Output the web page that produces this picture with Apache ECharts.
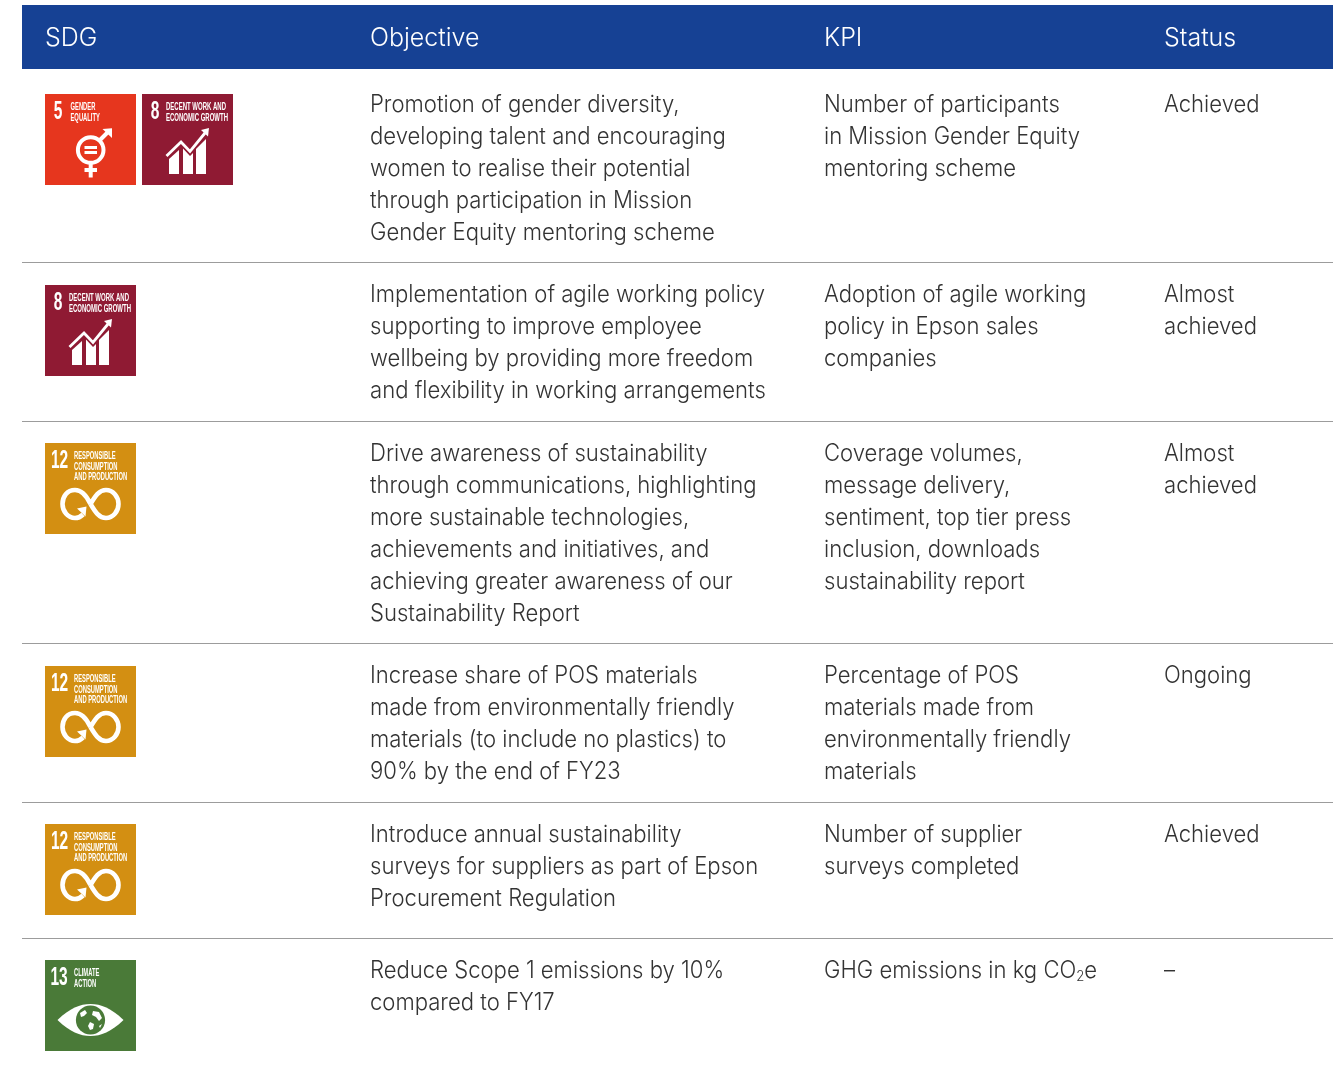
<!DOCTYPE html>
<html>
<head>
<meta charset="utf-8">
<title>SDG objectives</title>
<script src="https://cdn.jsdelivr.net/npm/echarts@6/dist/echarts.min.js"></script>
<style>
    html, body { margin: 0; padding: 0; background: #fff; }
    #main { width: 1340px; height: 1066px; }
</style>
</head>
<body>
<div id="main"></div>
<script>
var headers = ['SDG', 'Objective', 'KPI', 'Status'];

var sdgGoals = [[5, 8], [8], [12], [12], [12], [13]];

var objectives = [
    ['Promotion of gender diversity,', 'developing talent and encouraging', 'women to realise their potential', 'through participation in Mission', 'Gender Equity mentoring scheme'],
    ['Implementation of agile working policy', 'supporting to improve employee', 'wellbeing by providing more freedom', 'and flexibility in working arrangements'],
    ['Drive awareness of sustainability', 'through communications, highlighting', 'more sustainable technologies,', 'achievements and initiatives, and', 'achieving greater awareness of our', 'Sustainability Report'],
    ['Increase share of POS materials', 'made from environmentally friendly', 'materials (to include no plastics) to', '90% by the end of FY23'],
    ['Introduce annual sustainability', 'surveys for suppliers as part of Epson', 'Procurement Regulation'],
    ['Reduce Scope 1 emissions by 10%', 'compared to FY17']
];

var kpis = [
    ['Number of participants', 'in Mission Gender Equity', 'mentoring scheme'],
    ['Adoption of agile working', 'policy in Epson sales', 'companies'],
    ['Coverage volumes,', 'message delivery,', 'sentiment, top tier press', 'inclusion, downloads', 'sustainability report'],
    ['Percentage of POS', 'materials made from', 'environmentally friendly', 'materials'],
    ['Number of supplier', 'surveys completed'],
    ['GHG emissions in kg CO₂e']
];

var statuses = [
    ['Achieved'],
    ['Almost', 'achieved'],
    ['Almost', 'achieved'],
    ['Ongoing'],
    ['Achieved'],
    ['–']
];

var goalTitles = {
    5: ['GENDER', 'EQUALITY'],
    8: ['DECENT WORK AND', 'ECONOMIC GROWTH'],
    12: ['RESPONSIBLE', 'CONSUMPTION', 'AND PRODUCTION'],
    13: ['CLIMATE', 'ACTION']
};

// layout
var FONT = 'Inter';
var COL_X = [45, 370, 824, 1164];
var TABLE_L = 22, TABLE_R = 1333;
var HEAD_TOP = 5, HEAD_BOTTOM = 69;
var BODY_TOP = 71.5;
var LINE_H = 32;
var ICON = 91, ICON_GAP = 6;
var TEXT_SIZE = 23.5;
var TEXT_COLOR = '#333';

var goalColor = { 5: '#e6361e', 8: '#8f1a33', 12: '#d38f12', 13: '#4a7a38' };
var goalLayout = {
    5: { numX: 13, titleX: 25.5, sx: 0.58 },
    8: { numX: 13, titleX: 24, sx: 0.6 },
    12: { numX: 14.5, titleX: 29, sx: 0.58 },
    13: { numX: 14, titleX: 29, sx: 0.58 }
};

// row tops come from how many lines each row needs
var rowTops = [];
(function () {
    var y = BODY_TOP;
    for (var i = 0; i < objectives.length; i++) {
        rowTops.push(y);
        var n = Math.max(objectives[i].length, kpis[i].length, statuses[i].length);
        y += Math.max(n * LINE_H + 30.5, ICON + 45);
    }
})();

function white(type, shape, extra) {
    return { type: type, shape: shape, style: Object.assign({ fill: '#fff' }, extra || {}) };
}
function whiteLine(points, w) {
    return { type: 'polyline', shape: { points: points }, style: { fill: null, stroke: '#fff', lineWidth: w } };
}

// pictogram of each goal, drawn on a 91 x 91 tile
function pictogram(goal) {
    var c = goalColor[goal];
    if (goal === 5) {
        return [
            { type: 'circle', shape: { cx: 45.7, cy: 56, r: 12.8 }, style: { fill: null, stroke: '#fff', lineWidth: 4 } },
            white('rect', { x: 39.5, y: 52, width: 12.5, height: 3 }),
            white('rect', { x: 39.5, y: 57, width: 12.5, height: 3 }),
            white('rect', { x: 43.7, y: 70, width: 4, height: 13.5 }),
            white('rect', { x: 39.5, y: 74, width: 12.5, height: 4 }),
            whiteLine([[54, 47], [64, 37]], 4),
            white('polygon', { points: [[57.5, 35], [67, 34.2], [67, 44]] })
        ];
    }
    if (goal === 8) {
        return [
            white('polygon', { points: [[27, 65], [37, 56], [37, 80], [27, 80]] }),
            white('polygon', { points: [[41, 54.5], [48, 62], [51, 59], [51, 80], [41, 80]] }),
            white('polygon', { points: [[54, 55], [64, 45], [64, 80], [54, 80]] }),
            whiteLine([[24.5, 62], [39, 48], [48, 57.5], [63, 39]], 2.8),
            white('polygon', { points: [[59, 36], [67, 34], [66, 42.5]] })
        ];
    }
    if (goal === 12) {
        return [
            { type: 'path', shape: {
                pathData: 'M45.5 63.5C41 54 36 49.5 30 49.5C22 49.5 17.5 56 17.5 63.5C17.5 71 23 77.5 30 77.5C34 77.5 36 76 38 74M45.5 63.5C50 56 54 49.5 61 49.5C68 49.5 73.5 56 73.5 63.5C73.5 71 68 77.5 61 77.5C54 77.5 50 71 45.5 63.5',
                x: 17.5, y: 47, width: 56, height: 28, layout: 'cover'
            }, style: { fill: null, stroke: '#fff', lineWidth: 4.6 } },
            white('polygon', { points: [[32, 65.5], [41.5, 63.5], [40.5, 73.5]] })
        ];
    }
    return [
        { type: 'path', shape: {
            pathData: 'M12.5 60C25 48 35 44 45.5 44C56 44 66 48 78.5 60C66 72 56 76 45.5 76C35 76 25 72 12.5 60Z',
            x: 12.5, y: 44, width: 66, height: 32, layout: 'cover'
        }, style: { fill: '#fff' } },
        { type: 'circle', shape: { cx: 45.5, cy: 60, r: 14.6 }, style: { fill: c } },
        white('polygon', { points: [[35, 53], [40, 50], [42, 53], [39, 56], [36, 57]] }),
        white('polygon', { points: [[48, 51], [54, 52], [57, 58], [54, 61], [51, 57], [47, 55]] }),
        white('polygon', { points: [[45, 62], [49, 64], [48, 69], [45, 70], [43, 66]] }),
        white('polygon', { points: [[54, 66], [57, 64], [55, 68]] })
    ];
}

function tile(goal, x, y) {
    var lay = goalLayout[goal];
    var kids = [{ type: 'rect', shape: { x: 0, y: 0, width: ICON, height: ICON }, style: { fill: goalColor[goal] } }];
    kids.push({
        type: 'text', x: lay.numX, y: 18.5, scaleX: 0.62,
        style: { text: String(goal), fill: '#fff', font: 'bold 25px "Liberation Sans"', align: 'center', verticalAlign: 'middle' }
    });
    goalTitles[goal].forEach(function (t, i) {
        kids.push({
            type: 'text', x: lay.titleX, y: 13 + i * 10.8, scaleX: lay.sx,
            style: { text: t, fill: '#fff', font: 'bold 10px "Liberation Sans"', align: 'left', verticalAlign: 'middle' }
        });
    });
    return { type: 'group', x: x, y: y, children: kids.concat(pictogram(goal)) };
}

function cellText(lines, x, y) {
    var text = lines.join('\n');
    var style = { fill: TEXT_COLOR, fontFamily: FONT, fontWeight: 300, fontSize: TEXT_SIZE, lineHeight: LINE_H, align: 'left', verticalAlign: 'top' };
    // the subscript in CO2e sits lower than the glyph of the font does
    if (text.indexOf('₂') >= 0) {
        var parts = text.split('₂');
        text = '{t|' + parts[0] + '}{s|2}{t|' + parts[1] + '}';
        style.rich = {
            t: { fill: TEXT_COLOR, fontFamily: FONT, fontWeight: 300, fontSize: TEXT_SIZE, lineHeight: LINE_H },
            s: { fill: TEXT_COLOR, fontFamily: FONT, fontWeight: 300, fontSize: 14, lineHeight: LINE_H, padding: [12, 0, 0, 0] }
        };
    }
    style.text = text;
    return { type: 'text', x: x, y: y, scaleX: 0.94, style: style };
}

function renderHead(params, api) {
    var lt = api.coord([TABLE_L, HEAD_TOP]);
    var rb = api.coord([TABLE_R, HEAD_BOTTOM]);
    var kids = [{ type: 'rect', shape: { x: lt[0], y: lt[1], width: rb[0] - lt[0], height: rb[1] - lt[1] }, style: { fill: '#164194' } }];
    headers.forEach(function (h, i) {
        kids.push({
            type: 'text', x: api.coord([COL_X[i], 0])[0], y: api.coord([0, 38])[1], scaleX: 0.98,
            style: { text: h, fill: '#fff', fontFamily: FONT, fontWeight: 300, fontSize: 25.5, align: 'left', verticalAlign: 'middle' }
        });
    });
    return { type: 'group', children: kids };
}

function renderRow(params, api) {
    var i = api.value(0);
    var top = rowTops[i];
    var kids = [];
    if (i > 0) {
        var a = api.coord([TABLE_L, Math.round(top)]);
        var b = api.coord([TABLE_R, Math.round(top)]);
        kids.push({ type: 'rect', shape: { x: a[0], y: a[1], width: b[0] - a[0], height: 1 }, style: { fill: '#9c9c9c' } });
    }
    sdgGoals[i].forEach(function (g, k) {
        var p = api.coord([COL_X[0] + k * (ICON + ICON_GAP), Math.round(top + 22.5)]);
        kids.push(tile(g, p[0], p[1]));
    });
    var ty = api.coord([0, top + 17])[1];
    kids.push(cellText(objectives[i], api.coord([COL_X[1], 0])[0], ty));
    kids.push(cellText(kpis[i], api.coord([COL_X[2], 0])[0], ty));
    kids.push(cellText(statuses[i], api.coord([COL_X[3], 0])[0], ty));
    return { type: 'group', children: kids };
}

var myChart = echarts.init(document.getElementById('main'), null, { renderer: 'canvas' });
myChart.setOption({
    backgroundColor: '#fff',
    animation: false,
    tooltip: { show: false },
    grid: { left: 0, right: 0, top: 0, bottom: 0 },
    xAxis: { type: 'value', min: 0, max: 1340, show: false },
    yAxis: { type: 'value', min: 0, max: 1066, inverse: true, show: false },
    series: [
        { type: 'custom', silent: true, renderItem: renderHead, data: [[0]] },
        { type: 'custom', silent: true, renderItem: renderRow, data: objectives.map(function (o, i) { return [i]; }), encode: { x: [], y: [] } }
    ]
});
</script>
</body>
</html>
